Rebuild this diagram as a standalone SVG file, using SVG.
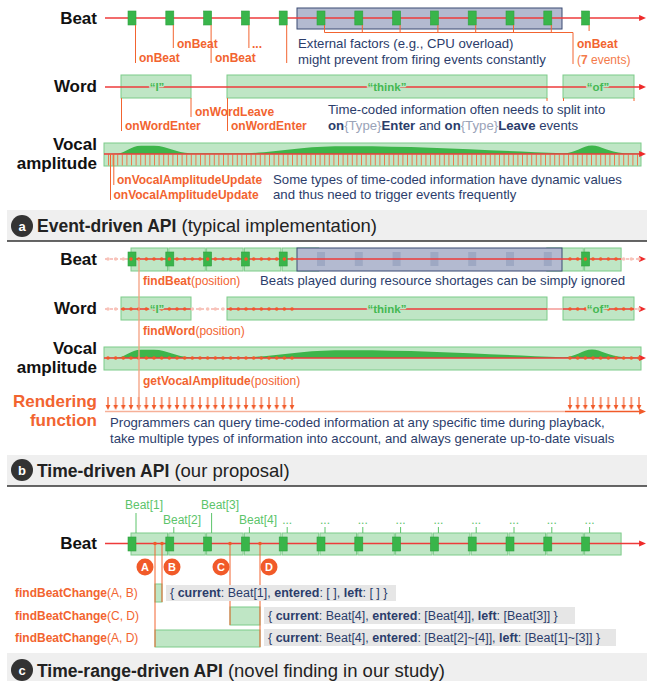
<svg xmlns="http://www.w3.org/2000/svg" width="647" height="681" viewBox="0 0 647 681">
<style>
text{font-family:"Liberation Sans",Arial,sans-serif}
.lbl{font-size:17px;font-weight:bold;fill:#111;text-anchor:end}
.olbl{font-size:17px;font-weight:bold;fill:#f26430;text-anchor:end}
.ev{font-size:12px;font-weight:bold;fill:#f26430}
.evl{font-size:12px;fill:#f47a4a}
.note{font-size:13.2px;fill:#2b3d6b}
.b{font-weight:bold}
.gt{fill:#9aa3b8}
.wt{font-size:11.5px;font-weight:bold;fill:#45b853;text-anchor:middle;stroke:#bfe6c5;stroke-width:2.5;paint-order:stroke}
.hdr{font-size:18.5px;fill:#222}
.hb{font-weight:bold;font-size:17.5px}
.beat{fill:#39b54a;stroke:#2fa040;stroke-width:0.6}
.fbeat{fill:#9ea8c3}
.box{fill:#bfe6c5;stroke:#7dcb89;stroke-width:1}
.gray{fill:#b3bad0;stroke:#3b4a73;stroke-width:1}
.rl{stroke:#ee3b3b;stroke-width:1.3;fill:none}
.fl{stroke:#f6b3ad;stroke-width:1.3;fill:none;stroke-dasharray:3 2}
.ol{stroke:#f26430;stroke-width:1;fill:none}
.pl{stroke:#f5a080;stroke-width:1.3;fill:none}
.dots{stroke:#f15a29;stroke-width:3.6;stroke-linecap:round;stroke-dasharray:0 7.667;fill:none}
.fdots{stroke:#f8c3b8;stroke-width:3.6;stroke-linecap:round;stroke-dasharray:0 7.667;fill:none}
.band{fill:#efefef}
.hl{stroke:#333;stroke-width:1.5}
.circ{fill:#333}
.cl{fill:#fff;font-size:13px;font-weight:bold;text-anchor:middle}
.gl{fill:#5cc46a;font-size:12px}
.gtick{stroke:#5cc46a;stroke-width:1}
.res{fill:#e6e6e6}
.rt{font-size:12.5px;fill:#2b3d6b}
.pc{fill:#f15a29}
.pt{fill:#fff;font-size:11px;font-weight:bold;text-anchor:middle}
.wave{fill:#3db54a}
</style>
<defs>
<marker id="ar" viewBox="0 0 8 8" refX="1" refY="4" markerWidth="7" markerHeight="7" markerUnits="userSpaceOnUse" orient="auto"><path d="M0,0.5 L8,4 L0,7.5 Z" fill="#ee2a2a"/></marker>
<marker id="ao" viewBox="0 0 8 8" refX="1" refY="4" markerWidth="7" markerHeight="7" markerUnits="userSpaceOnUse" orient="auto"><path d="M0,0.5 L8,4 L0,7.5 Z" fill="#f15a29"/></marker>
<pattern id="da1" patternUnits="userSpaceOnUse" x="104.17" y="396" width="7.667" height="16">
<line x1="3.83" y1="1" x2="3.83" y2="11" stroke="#f15a29" stroke-width="1.2"/>
<path d="M1.5,9 L3.83,14 L6.17,9 Z" fill="#f15a29"/>
</pattern>
<pattern id="da2" patternUnits="userSpaceOnUse" x="566.17" y="396" width="7.667" height="16">
<line x1="3.83" y1="1" x2="3.83" y2="11" stroke="#f15a29" stroke-width="1.2"/>
<path d="M1.5,9 L3.83,14 L6.17,9 Z" fill="#f15a29"/>
</pattern>
<path id="wv" d="M104,154 L118,153.5 C126,153 130,146 141,145.8 L154,145.8 C168,146 176,153 190,153.3 L238,153.3 C275,153.3 295,147 335,146.3 C410,145.5 480,150 563,153.3 C576,153.4 582,145.5 592,145.5 C601,145.5 608,152 624,153.3 L641,153.5 L641,154 Z"/>
</defs>

<!-- ===== Section a ===== -->
<g id="a-beat">
<text class="lbl" x="97" y="24">Beat</text>
<rect class="gray" x="297" y="8" width="265" height="21"/>
<line class="rl" x1="105" y1="18" x2="640" y2="18" marker-end="url(#ar)"/>
<rect class="beat" x="128" y="11" width="8" height="14"/>
<rect class="beat" x="165.8" y="11" width="8" height="14"/>
<rect class="beat" x="203.6" y="11" width="8" height="14"/>
<rect class="beat" x="241.4" y="11" width="8" height="14"/>
<rect class="beat" x="279.2" y="11" width="8" height="14"/>
<rect class="beat" x="317" y="11" width="8" height="14"/>
<rect class="beat" x="354.8" y="11" width="8" height="14"/>
<rect class="beat" x="392.6" y="11" width="8" height="14"/>
<rect class="beat" x="430.4" y="11" width="8" height="14"/>
<rect class="beat" x="468.2" y="11" width="8" height="14"/>
<rect class="beat" x="506" y="11" width="8" height="14"/>
<rect class="beat" x="543.8" y="11" width="8" height="14"/>
<rect class="beat" x="581.6" y="11" width="8" height="14"/>
<path class="ol" d="M135.5,25V63 M173.3,25V48 M211.1,25V63 M248.9,25V48 M286.7,25V63 M324.5,25V32.5 M362.3,25V32.5 M400.1,25V32.5 M437.9,25V32.5 M475.7,25V32.5 M513.5,25V32.5 M551.3,25V32.5 M324.5,32.5H573V64 M589.1,25V31"/>
<text class="ev" x="139" y="62">onBeat</text>
<text class="ev" x="177" y="48">onBeat</text>
<text class="ev" x="215" y="62">onBeat</text>
<text class="ev" x="252" y="48">...</text>
<text class="note" x="298" y="48">External factors (e.g., CPU overload)</text>
<text class="note" x="298" y="64">might prevent from firing events constantly</text>
<text class="ev" x="577" y="48">onBeat</text>
<text class="evl" x="577" y="64">(<tspan class="b">7</tspan> events)</text>
</g>

<g id="a-word">
<text class="lbl" x="97" y="92">Word</text>
<rect class="box" x="121" y="75" width="70" height="23"/>
<rect class="box" x="227" y="75" width="320" height="23"/>
<rect class="box" x="563" y="75" width="71" height="23"/>
<line class="rl" x1="105" y1="87" x2="640" y2="87" marker-end="url(#ar)"/>
<text class="wt" x="157" y="91">“I”</text>
<text class="wt" x="387" y="91">“think”</text>
<text class="wt" x="598" y="91">“of”</text>
<path class="ol" d="M121.5,98V131 M191,98V117 M227.5,98V131 M547,98V101 M563.5,98V101 M634,98V101"/>
<text class="ev" x="125" y="130">onWordEnter</text>
<text class="ev" x="195" y="116">onWordLeave</text>
<text class="ev" x="231" y="130">onWordEnter</text>
<text class="note" x="328" y="114">Time-coded information often needs to split into</text>
<text class="note" x="328" y="130"><tspan class="b">on</tspan><tspan class="gt">{Type}</tspan><tspan class="b">Enter</tspan> and <tspan class="b">on</tspan><tspan class="gt">{Type}</tspan><tspan class="b">Leave</tspan> events</text>
</g>

<g id="a-vocal">
<text class="lbl" x="97" y="150">Vocal</text>
<text class="lbl" x="97" y="168.5">amplitude</text>
<rect class="box" x="104" y="143" width="537" height="23"/>
<use href="#wv" class="wave"/>
<line x1="108" y1="160" x2="640" y2="160" stroke="#f26a3c" stroke-width="11" stroke-dasharray="1 3.6" opacity="0.85"/>
<line class="rl" x1="104" y1="154" x2="640" y2="154" marker-end="url(#ar)"/>
<path class="ol" d="M110.5,154V200 M113.8,154V185"/>
<text class="ev" x="117" y="184">onVocalAmplitudeUpdate</text>
<text class="ev" x="113.5" y="199">onVocalAmplitudeUpdate</text>
<text class="note" x="273" y="184">Some types of time-coded information have dynamic values</text>
<text class="note" x="273" y="199">and thus need to trigger events frequently</text>
</g>

<g id="a-header">
<rect class="band" x="7" y="210" width="640" height="31"/>
<line class="hl" x1="7" y1="241" x2="647" y2="241"/>
<circle class="circ" cx="22" cy="226" r="11"/>
<text class="cl" x="22" y="230.5">a</text>
<text class="hdr" x="37" y="232"><tspan class="hb">Event-driven API</tspan> (typical implementation)</text>
</g>

<!-- ===== Section b ===== -->
<g id="b-beat">
<text class="lbl" x="97" y="265">Beat</text>
<rect class="box" x="131" y="248" width="36.5" height="23"/>
<rect class="box" x="168.8" y="248" width="36.5" height="23"/>
<rect class="box" x="206.6" y="248" width="36.5" height="23"/>
<rect class="box" x="244.4" y="248" width="36.5" height="23"/>
<rect class="box" x="282.2" y="248" width="36.5" height="23"/>
<rect class="box" x="546.8" y="248" width="36.5" height="23"/>
<rect class="box" x="584.6" y="248" width="36.5" height="23"/>
<rect class="gray" x="297" y="248" width="265" height="23"/>
<rect class="fbeat" x="317" y="252" width="8" height="14"/>
<rect class="fbeat" x="354.8" y="252" width="8" height="14"/>
<rect class="fbeat" x="392.6" y="252" width="8" height="14"/>
<rect class="fbeat" x="430.4" y="252" width="8" height="14"/>
<rect class="fbeat" x="468.2" y="252" width="8" height="14"/>
<rect class="fbeat" x="506" y="252" width="8" height="14"/>
<rect class="fbeat" x="543.8" y="252" width="8" height="14"/>
<line class="fl" x1="105" y1="259" x2="128" y2="259"/>
<line class="rl" x1="128" y1="259" x2="621" y2="259"/>
<line class="fl" x1="621" y1="259" x2="640" y2="259" marker-end="url(#ar)"/>
<rect class="beat" x="128" y="252" width="8" height="14"/>
<rect class="beat" x="165.8" y="252" width="8" height="14"/>
<rect class="beat" x="203.6" y="252" width="8" height="14"/>
<rect class="beat" x="241.4" y="252" width="8" height="14"/>
<rect class="beat" x="279.2" y="252" width="8" height="14"/>
<rect class="beat" x="581.6" y="252" width="8" height="14"/>
<line class="fdots" x1="108" y1="259" x2="124" y2="259"/>
<line class="dots" x1="131" y1="259" x2="293" y2="259"/>
<line class="dots" x1="570" y1="259" x2="617" y2="259"/>
<line class="fdots" x1="623.67" y1="259" x2="640" y2="259"/>
<text class="ev" x="143" y="285">findBeat<tspan font-weight="normal">(position)</tspan></text>
<text class="note" x="260" y="285">Beats played during resource shortages can be simply ignored</text>
</g>

<g id="b-word">
<text class="lbl" x="97" y="314">Word</text>
<rect class="box" x="121" y="297" width="70" height="23"/>
<rect class="box" x="227" y="297" width="320" height="23"/>
<rect class="box" x="563" y="297" width="71" height="23"/>
<line class="fl" x1="105" y1="309" x2="121" y2="309"/>
<line class="rl" x1="121" y1="309" x2="191" y2="309"/>
<line class="fl" x1="191" y1="309" x2="227" y2="309"/>
<line class="rl" x1="227" y1="309" x2="547" y2="309"/>
<line stroke="#f38a86" stroke-width="1.3" x1="547" y1="309" x2="563" y2="309"/>
<line class="rl" x1="563" y1="309" x2="634" y2="309"/>
<line class="fl" x1="634" y1="309" x2="640" y2="309" marker-end="url(#ar)"/>
<line class="fdots" x1="108" y1="309" x2="116" y2="309"/>
<line class="dots" x1="123.33" y1="309" x2="186" y2="309"/>
<line class="fdots" x1="192.33" y1="309" x2="224" y2="309"/>
<line class="dots" x1="230.67" y1="309" x2="293" y2="309"/>
<line class="dots" x1="570" y1="309" x2="632" y2="309"/>
<line class="fdots" x1="639" y1="309" x2="640" y2="309"/>
<text class="wt" x="157" y="313">“I”</text>
<text class="wt" x="387" y="313">“think”</text>
<text class="wt" x="598" y="313">“of”</text>
<text class="ev" x="143" y="335">findWord<tspan font-weight="normal">(position)</tspan></text>
</g>

<g id="b-vocal">
<text class="lbl" x="97" y="354">Vocal</text>
<text class="lbl" x="97" y="372.5">amplitude</text>
<rect class="box" x="104" y="347" width="537" height="23"/>
<use href="#wv" class="wave" transform="translate(0,204)"/>
<line class="rl" x1="104" y1="358" x2="640" y2="358" marker-end="url(#ar)"/>
<line class="dots" x1="108" y1="358" x2="293" y2="358"/>
<line class="dots" x1="570" y1="358" x2="640" y2="358"/>
<text class="ev" x="143" y="385">getVocalAmplitude<tspan font-weight="normal">(position)</tspan></text>
</g>

<g id="b-render">
<text class="olbl" x="97" y="407">Rendering</text>
<text class="olbl" x="97" y="426">function</text>
<line stroke="#f6b098" stroke-width="1.5" x1="105" y1="411.5" x2="565" y2="411.5"/>
<line stroke="#f15a29" stroke-width="1.5" x1="565" y1="411.5" x2="640" y2="411.5" marker-end="url(#ao)"/>
<rect x="104.5" y="396" width="191.5" height="16" fill="url(#da1)"/>
<rect x="566.5" y="396" width="76" height="16" fill="url(#da2)"/>
<text class="note" x="110" y="427">Programmers can query time-coded information at any specific time during playback,</text>
<text class="note" x="110" y="443">take multiple types of information into account, and always generate up-to-date visuals</text>
</g>

<g id="b-position">
<line class="pl" x1="139" y1="259" x2="139" y2="410"/>
</g>

<g id="b-header">
<rect class="band" x="7" y="455" width="640" height="31"/>
<line class="hl" x1="7" y1="486" x2="647" y2="486"/>
<circle class="circ" cx="22" cy="470" r="11"/>
<text class="cl" x="22" y="474.5">b</text>
<text class="hdr" x="37" y="477"><tspan class="hb">Time-driven API</tspan> (our proposal)</text>
</g>

<!-- ===== Section c ===== -->
<g id="c-beat">
<text class="lbl" x="97" y="549">Beat</text>
<rect class="box" x="131" y="533" width="36.5" height="22"/>
<rect class="box" x="168.8" y="533" width="36.5" height="22"/>
<rect class="box" x="206.6" y="533" width="36.5" height="22"/>
<rect class="box" x="244.4" y="533" width="36.5" height="22"/>
<rect class="box" x="282.2" y="533" width="36.5" height="22"/>
<rect class="box" x="320" y="533" width="36.5" height="22"/>
<rect class="box" x="357.8" y="533" width="36.5" height="22"/>
<rect class="box" x="395.6" y="533" width="36.5" height="22"/>
<rect class="box" x="433.4" y="533" width="36.5" height="22"/>
<rect class="box" x="471.2" y="533" width="36.5" height="22"/>
<rect class="box" x="509" y="533" width="36.5" height="22"/>
<rect class="box" x="546.8" y="533" width="36.5" height="22"/>
<rect class="box" x="584.6" y="533" width="36.5" height="22"/>
<line class="rl" x1="105" y1="543.5" x2="640" y2="543.5" marker-end="url(#ar)"/>
<rect class="beat" x="128" y="537" width="8" height="14"/>
<rect class="beat" x="165.8" y="537" width="8" height="14"/>
<rect class="beat" x="203.6" y="537" width="8" height="14"/>
<rect class="beat" x="241.4" y="537" width="8" height="14"/>
<rect class="beat" x="279.2" y="537" width="8" height="14"/>
<rect class="beat" x="317" y="537" width="8" height="14"/>
<rect class="beat" x="354.8" y="537" width="8" height="14"/>
<rect class="beat" x="392.6" y="537" width="8" height="14"/>
<rect class="beat" x="430.4" y="537" width="8" height="14"/>
<rect class="beat" x="468.2" y="537" width="8" height="14"/>
<rect class="beat" x="506" y="537" width="8" height="14"/>
<rect class="beat" x="543.8" y="537" width="8" height="14"/>
<rect class="beat" x="581.6" y="537" width="8" height="14"/>
<path class="gtick" d="M136,513V533 M173.8,527V533 M211.6,513V533 M249.4,527V533 M287.2,527V533 M325,527V533 M362.8,527V533 M400.6,527V533 M438.4,527V533 M476.2,527V533 M514,527V533 M551.8,527V533 M589.6,527V533"/>
<text class="gl" x="125" y="509">Beat[1]</text>
<text class="gl" x="163" y="524">Beat[2]</text>
<text class="gl" x="201" y="509">Beat[3]</text>
<text class="gl" x="239" y="524">Beat[4]</text>
<g class="gl" text-anchor="middle">
<text x="287.2" y="524">...</text>
<text x="325" y="524">...</text>
<text x="362.8" y="524">...</text>
<text x="400.6" y="524">...</text>
<text x="438.4" y="524">...</text>
<text x="476.2" y="524">...</text>
<text x="514" y="524">...</text>
<text x="551.8" y="524">...</text>
<text x="589.6" y="524">...</text>
</g>
</g>

<g id="c-ranges">
<rect class="box" x="155" y="584" width="7" height="18"/>
<rect class="box" x="230" y="607" width="30" height="18"/>
<rect class="box" x="155" y="630" width="105" height="17"/>
</g>

<g id="c-points">
<path class="ol" d="M155,543.5V647 M162,543.5V602 M230,543.5V625 M260,543.5V647"/>
<circle class="pc" cx="155" cy="543.5" r="1.8"/>
<circle class="pc" cx="162" cy="543.5" r="1.8"/>
<circle class="pc" cx="230" cy="543.5" r="1.8"/>
<circle class="pc" cx="260" cy="543.5" r="1.8"/>
<circle class="pc" cx="145" cy="567" r="8.5"/><text class="pt" x="145" y="571">A</text>
<circle class="pc" cx="172" cy="567" r="8.5"/><text class="pt" x="172" y="571">B</text>
<circle class="pc" cx="221" cy="567" r="8.5"/><text class="pt" x="221" y="571">C</text>
<circle class="pc" cx="269" cy="567" r="8.5"/><text class="pt" x="269" y="571">D</text>
</g>

<g id="c-calls">
<text class="ev" x="15" y="597">findBeatChange<tspan font-weight="normal">(A, B)</tspan></text>
<text class="ev" x="15" y="620">findBeatChange<tspan font-weight="normal">(C, D)</tspan></text>
<text class="ev" x="15" y="642">findBeatChange<tspan font-weight="normal">(A, D)</tspan></text>
<rect class="res" x="166" y="585" width="230" height="16"/>
<text class="rt" x="170" y="597">{ <tspan class="b">current</tspan>: Beat[1], <tspan class="b">entered</tspan>: [ ], <tspan class="b">left</tspan>: [ ] }</text>
<rect class="res" x="264" y="607" width="311" height="17"/>
<text class="rt" x="268" y="620">{ <tspan class="b">current</tspan>: Beat[4], <tspan class="b">entered</tspan>: [Beat[4]], <tspan class="b">left</tspan>: [Beat[3]] }</text>
<rect class="res" x="264" y="629" width="352" height="17"/>
<text class="rt" x="268" y="642">{ <tspan class="b">current</tspan>: Beat[4], <tspan class="b">entered</tspan>: [Beat[2]~[4]], <tspan class="b">left</tspan>: [Beat[1]~[3]] }</text>
</g>

<g id="c-header">
<rect class="band" x="7" y="653" width="640" height="28"/>
<circle class="circ" cx="22" cy="670" r="11"/>
<text class="cl" x="22" y="674.5">c</text>
<text class="hdr" x="37" y="677"><tspan class="hb">Time-range-driven API</tspan> (novel finding in our study)</text>
</g>
</svg>
